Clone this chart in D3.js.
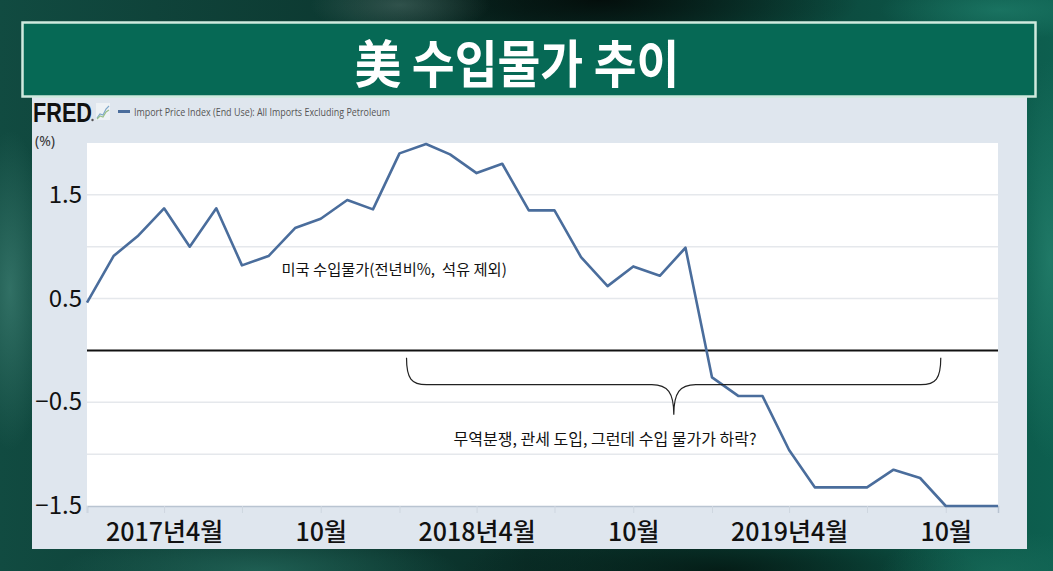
<!DOCTYPE html>
<html>
<head>
<meta charset="utf-8">
<script src="https://cdn.jsdelivr.net/npm/d3@7"></script>
<style>
  html, body { margin: 0; padding: 0; background: #0a3a31; }
  svg { display: block; }
</style>
</head>
<body>
<svg id="chart" width="1053" height="571"></svg>
<script>
// ---- data ----
const months = [
  "2017-01","2017-02","2017-03","2017-04","2017-05","2017-06","2017-07","2017-08","2017-09","2017-10","2017-11","2017-12",
  "2018-01","2018-02","2018-03","2018-04","2018-05","2018-06","2018-07","2018-08","2018-09","2018-10","2018-11","2018-12",
  "2019-01","2019-02","2019-03","2019-04","2019-05","2019-06","2019-07","2019-08","2019-09","2019-10","2019-11","2019-12"
];
const importPriceYoY = [
  0.46, 0.91, 1.10, 1.37, 1.00, 1.37, 0.82, 0.91, 1.18, 1.27, 1.45, 1.36,
  1.90, 1.99, 1.89, 1.71, 1.80, 1.35, 1.35, 0.90, 0.62, 0.81, 0.72, 0.99,
  -0.26, -0.44, -0.44, -0.96, -1.32, -1.32, -1.32, -1.15, -1.23, -1.50, -1.50, -1.50
];
const xTickMonths = ["2017-01","2017-04","2017-07","2017-10","2018-01","2018-04","2018-07","2018-10","2019-01","2019-04","2019-07","2019-10"];
const xLabelMonths = ["2017-04","2017-10","2018-04","2018-10","2019-04","2019-10"];
const xLabels = ["2017년4월","10월","2018년4월","10월","2019년4월","10월"];
const yTickValues = [-1.5, -0.5, 0.5, 1.5];
const yGridValues = [-1.0, -0.5, 0.5, 1.0, 1.5];
const yDomain = [-1.5, 2.0];
const titleText = "美 수입물가 추이";
const seriesName = "Import Price Index (End Use): All Imports Excluding Petroleum";
const unitText = "(%)";
const note1 = "미국 수입물가(전년비%,  석유 제외)";
const note2 = "무역분쟁, 관세 도입, 그런데 수입 물가가 하락?";

// ---- setup ----
const parse = d3.timeParse("%Y-%m");
const data = months.map((m, i) => ({ date: parse(m), value: importPriceYoY[i] }));
const svg = d3.select("#chart");
const W = 1053, H = 571;
const plot = { left: 87, right: 998, top: 143, bottom: 506 };

const x = d3.scaleTime().domain([parse(months[0]), parse(months[months.length - 1])]).range([plot.left, plot.right]);
const y = d3.scaleLinear().domain(yDomain).range([plot.bottom, plot.top]);

// ---- background ----
const defs = svg.append("defs");
const lg = defs.append("linearGradient").attr("id", "bgLin").attr("x1", 0).attr("y1", 0).attr("x2", 1).attr("y2", 0);
lg.append("stop").attr("offset", "0").attr("stop-color", "#114b41");
lg.append("stop").attr("offset", "0.5").attr("stop-color", "#0a3029");
lg.append("stop").attr("offset", "1").attr("stop-color", "#0d5f4f");
svg.append("rect").attr("width", W).attr("height", H).attr("fill", "url(#bgLin)");

function blob(id, cx, cy, rx, ry, color, op) {
  const rg = defs.append("radialGradient").attr("id", id);
  rg.append("stop").attr("offset", "0").attr("stop-color", color).attr("stop-opacity", op);
  rg.append("stop").attr("offset", "1").attr("stop-color", color).attr("stop-opacity", 0);
  svg.append("ellipse").attr("cx", cx).attr("cy", cy).attr("rx", rx).attr("ry", ry).attr("fill", `url(#${id})`);
}
blob("b1", 600, 0, 260, 60, "#030a08", 0.9);
blob("b2", 720, 571, 260, 50, "#03140f", 0.8);
blob("b3", 10, 290, 40, 160, "#3f8074", 0.7);
blob("b4", 1050, 260, 40, 200, "#2c8a76", 0.6);
blob("b5", 260, 571, 200, 40, "#2a7466", 0.6);
blob("b6", 400, 5, 90, 30, "#4a6a64", 0.6);
blob("b7", 1000, 10, 120, 30, "#1f7d6a", 0.7);
blob("b8", 1000, 571, 120, 40, "#1a6e5c", 0.6);

// ---- panel ----
svg.append("rect").attr("x", 32).attr("y", 93).attr("width", 995).attr("height", 456).attr("fill", "#dfe6ee");

// ---- title banner ----
svg.append("rect").attr("x", 22.5).attr("y", 22.5).attr("width", 1013).attr("height", 74)
  .attr("fill", "#066955").attr("stroke", "#cfeade").attr("stroke-width", 2.5);
svg.append("text").attr("transform", "translate(517,60) scale(0.95,1.05)")
  .attr("text-anchor", "middle").attr("dominant-baseline", "central")
  .attr("font-family", "'Noto Sans CJK KR', 'Noto Sans CJK SC', sans-serif").attr("font-weight", 700)
  .attr("font-size", 49).attr("fill", "#ffffff").text(titleText);

// ---- FRED header ----
svg.append("text").attr("x", 33).attr("y", 122).attr("font-family", "'Liberation Sans', Arial, sans-serif")
  .attr("font-weight", 700).attr("font-size", 27).attr("fill", "#111")
  .attr("textLength", 59).attr("lengthAdjust", "spacingAndGlyphs").text("FRED");
svg.append("circle").attr("cx", 92.5).attr("cy", 120).attr("r", 1.2).attr("fill", "#555");
// small icon
const icon = svg.append("g").attr("transform", "translate(96,103)");
icon.append("rect").attr("width", 14).attr("height", 17).attr("fill", "#eef2f5");
icon.append("path").attr("d", "M1,15 L4,11 L7,12 L10,6 L13,3").attr("fill", "none").attr("stroke", "#7fa7c9").attr("stroke-width", 1.2);
icon.append("path").attr("d", "M1,16 L4,13 L7,14 L10,9 L13,7").attr("fill", "none").attr("stroke", "#9bc18a").attr("stroke-width", 1.2);
svg.append("line").attr("x1", 118).attr("x2", 130).attr("y1", 111.5).attr("y2", 111.5)
  .attr("stroke", "#4a6d9c").attr("stroke-width", 3);
svg.append("text").attr("x", 134).attr("y", 115.5).attr("font-family", "'Open Sans', 'Noto Sans', sans-serif")
  .attr("font-size", 11).attr("fill", "#555").attr("textLength", 256).attr("lengthAdjust", "spacingAndGlyphs")
  .text(seriesName);
svg.append("text").attr("x", 35).attr("y", 146).attr("font-family", "'Noto Sans', 'Open Sans', sans-serif")
  .attr("font-size", 14).attr("fill", "#333").text(unitText);

// ---- plot area ----
svg.append("rect").attr("x", plot.left).attr("y", plot.top).attr("width", plot.right - plot.left)
  .attr("height", plot.bottom - plot.top).attr("fill", "#ffffff");

svg.append("g").selectAll("line").data(yGridValues).join("line")
  .attr("x1", plot.left).attr("x2", plot.right).attr("y1", d => y(d)).attr("y2", d => y(d))
  .attr("stroke", "#e5e8ec").attr("stroke-width", 1.5);

// zero line
svg.append("line").attr("x1", plot.left).attr("x2", plot.right).attr("y1", y(0)).attr("y2", y(0))
  .attr("stroke", "#111").attr("stroke-width", 2);

// x axis
const labelMap = new Map(xLabelMonths.map((m, i) => [m, xLabels[i]]));
const xAxis = d3.axisBottom(x).tickValues(xTickMonths.map(parse)).tickSize(7).tickPadding(10)
  .tickFormat(d => labelMap.get(d3.timeFormat("%Y-%m")(d)) || "");
const gx = svg.append("g").attr("transform", `translate(0,${plot.bottom})`).call(xAxis);
gx.select(".domain").attr("stroke", "#b9c4d1").attr("stroke-width", 1.5);
gx.selectAll(".tick line").attr("stroke", "#cfd7e0");
gx.selectAll(".tick text").attr("font-family", "'Noto Sans CJK KR', sans-serif").attr("font-weight", 500)
  .attr("font-size", 25).attr("fill", "#111");

// y axis
const yAxis = d3.axisLeft(y).tickValues(yTickValues).tickSize(0).tickPadding(5).tickFormat(d3.format(".1f"));
const gy = svg.append("g").attr("transform", `translate(${plot.left},0)`).call(yAxis);
gy.select(".domain").remove();
gy.selectAll(".tick text").attr("font-family", "'Noto Sans CJK KR', 'Noto Sans', sans-serif")
  .attr("font-size", 24).attr("fill", "#111");

// series line
const line = d3.line().x(d => x(d.date)).y(d => y(d.value));
svg.append("path").datum(data).attr("d", line).attr("fill", "none")
  .attr("stroke", "#4a6d9c").attr("stroke-width", 2.6).attr("stroke-linejoin", "round");

// ---- annotations ----
svg.append("text").attr("x", x(parse("2017-08")) + 13).attr("y", y(0.79))
  .attr("dominant-baseline", "central").attr("font-family", "'Noto Sans CJK KR', sans-serif")
  .attr("font-size", 15.3).attr("fill", "#111").attr("xml:space", "preserve").text(note1);

const bx1 = x(parse("2018-01")) + 7, bx2 = x(parse("2019-10")) - 5, bxm = x(parse("2018-11")) + 14;
const byTop = y(-0.07), byMid = y(-0.33), byTip = y(-0.62);
const bp = d3.path();
bp.moveTo(bx1, byTop);
bp.bezierCurveTo(bx1, byMid - 6, bx1 + 5, byMid, bx1 + 20, byMid);
bp.lineTo(bxm - 22, byMid);
bp.bezierCurveTo(bxm - 6, byMid, bxm, byMid + 8, bxm, byTip);
bp.bezierCurveTo(bxm, byMid + 8, bxm + 6, byMid, bxm + 22, byMid);
bp.lineTo(bx2 - 20, byMid);
bp.bezierCurveTo(bx2 - 5, byMid, bx2, byMid - 6, bx2, byTop);
svg.append("path").attr("d", bp.toString()).attr("fill", "none").attr("stroke", "#222").attr("stroke-width", 1.2);

svg.append("text").attr("x", 605).attr("y", y(-0.84)).attr("text-anchor", "middle")
  .attr("dominant-baseline", "central").attr("font-family", "'Noto Sans CJK KR', sans-serif")
  .attr("font-size", 16).attr("fill", "#111").text(note2);
</script>
</body>
</html>
